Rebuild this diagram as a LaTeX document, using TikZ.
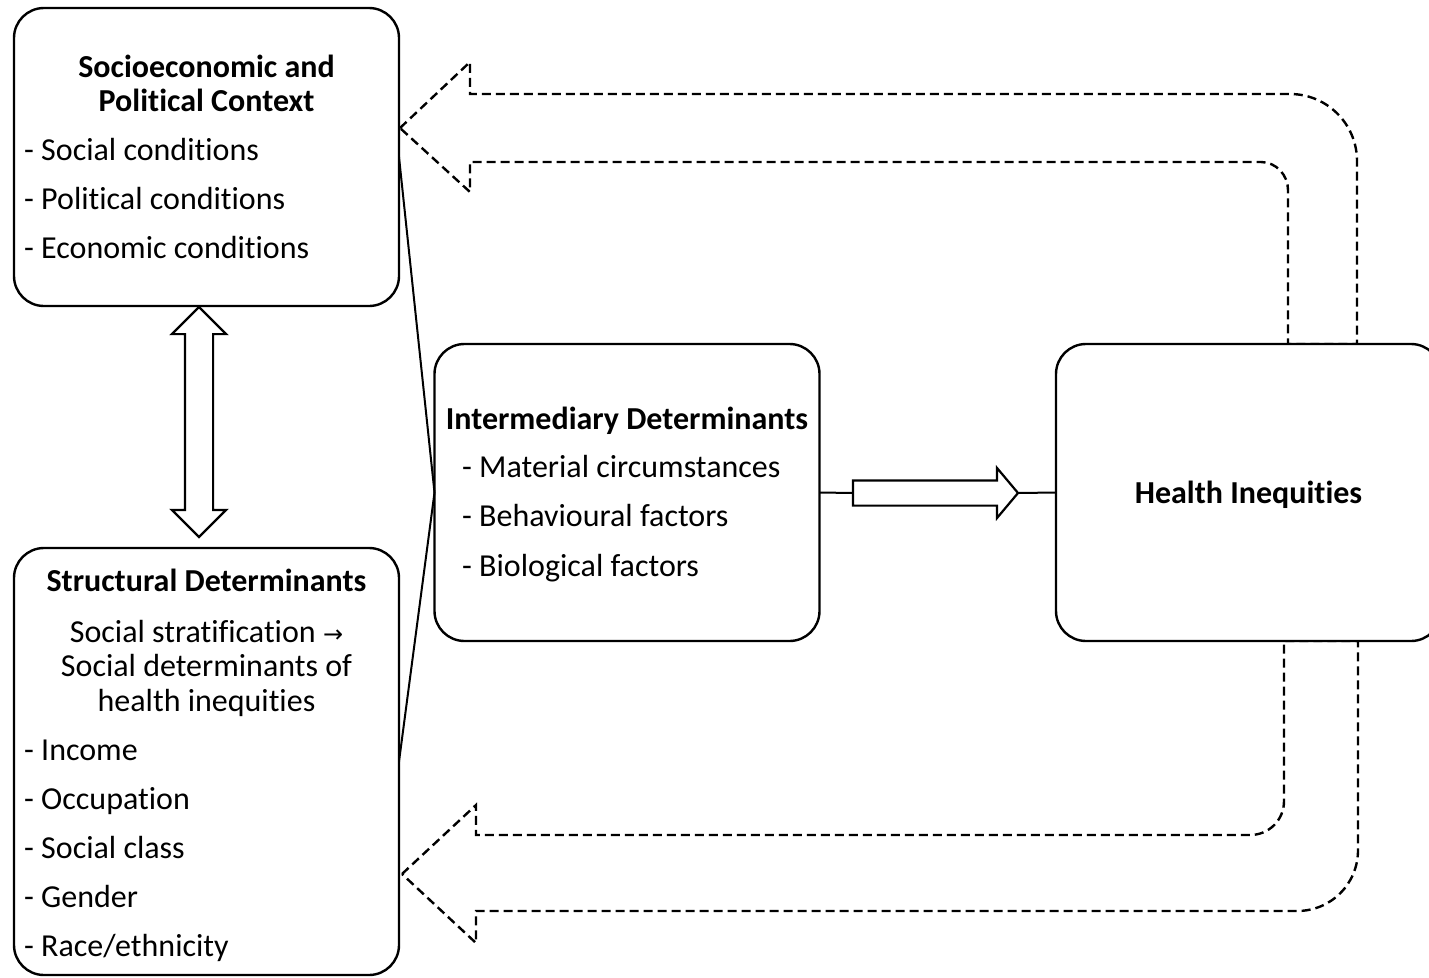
\documentclass[tikz,border=0pt]{standalone}
\usepackage{fontspec}
\setmainfont[Ligatures=NoCommon]{Carlito}
\newfontfamily\symfont{DejaVu Sans}
\usetikzlibrary{shapes.arrows}
\tikzset{
box/.style={
  draw,
  rectangle,
  rounded corners=30pt,
  line width=2.4pt,
  minimum width=385pt,
  fill=white,
  outer sep=0pt
  },
txt/.style={font=\fontsize{32}{38}\selectfont, inner sep=0pt},
head/.style={font=\fontsize{32}{38}\selectfont\bfseries, inner sep=0pt},
conn/.style={line width=2pt},
blockarrow/.style={draw, line width=2.2pt, fill=white, outer sep=0pt},
feedback/.style={draw, line width=2.4pt, dash pattern=on 9pt off 5pt, line join=miter}
}

\begin{document}
\begin{tikzpicture}[x=1pt, y=-1pt]
\useasboundingbox (0,0) rectangle (1429,977);

% feedback arrows
\draw[feedback] (400,128) -- (470,62) -- (470,94) -- (1290,94)
  .. controls (1327,94) and (1357,124) .. (1357,161) -- (1357,344)
  -- (1288,344) -- (1288,190) .. controls (1288,175) and (1276,162) .. (1261,162)
  -- (470,162) -- (470,192) -- cycle;
\draw[feedback] (402,874) -- (476,805) -- (476,835) -- (1250,835)
  .. controls (1269,835) and (1284,820) .. (1284,801) -- (1284,641)
  -- (1358,641) -- (1358,850) .. controls (1358,884) and (1331,911) .. (1297,911)
  -- (476,911) -- (476,943) -- cycle;

% boxes
\node[box, minimum height=298pt]	(ctx)		at (206.5,157)		{};
\node[box, minimum height=427pt]	(struct)	at (206.5,761.5)	{};
\node[box, minimum height=297pt]	(mid)		at (627,492.5)		{};
\node[box, minimum height=297pt]	(hi)		at (1248.5,492.5)	{};

% texts
\node[head] (ctx-t1) at (206.5,77) [anchor=base] {Socioeconomic and};
\node[head] (ctx-t2) at (206.5,111) [anchor=base] {Political Context};
\foreach \t [count=\i] in {Social conditions, Political conditions, Economic conditions}
  \node[txt, anchor=base west] (ctx-\i) at (24,{160+49*(\i-1)}) {- \t};

\node[head] (struct-t) at (206.5,591) [anchor=base] {Structural Determinants};
\node[txt, anchor=base] (struct-s1) at (206.5,642) {Social stratification {\symfont\fontsize{24}{28}\selectfont →}};
\node[txt, anchor=base] (struct-s2) at (206.5,676) {Social determinants of};
\node[txt, anchor=base] (struct-s3) at (206.5,711) {health inequities};
\foreach \t [count=\i] in {Income, Occupation, Social class, Gender, Race/ethnicity}
  \node[txt, anchor=base west] (struct-\i) at (24,{760+49*(\i-1)}) {- \t};

\node[head] (mid-t) at (627,429) [anchor=base] {Intermediary Determinants};
\foreach \t [count=\i] in {Material circumstances, Behavioural factors, Biological factors}
  \node[txt, anchor=base west] (mid-\i) at (462,{477+49.5*(\i-1)}) {- \t};

\node[head] (hi-t) at (1248.5,503) [anchor=base] {Health Inequities};

% block arrows
\node[blockarrow, double arrow, shape border rotate=90, inner sep=13pt, minimum height=230pt, minimum width=52pt,
  double arrow head extend=13pt, double arrow tip angle=90] (swap) at (199,422) {};
\node[blockarrow, single arrow, inner sep=11.5pt, minimum height=165pt, minimum width=48pt,
  single arrow head extend=12.5pt, single arrow tip angle=100, anchor=tail] (flow) at (853,493) {};

% connectors
\draw[conn] (ctx.east) -- (mid.west) -- (struct.east);
\draw[conn] (mid.east) -- (flow.tail);
\draw[conn] (flow.tip) -- (hi.west);
\end{tikzpicture}
\end{document}
